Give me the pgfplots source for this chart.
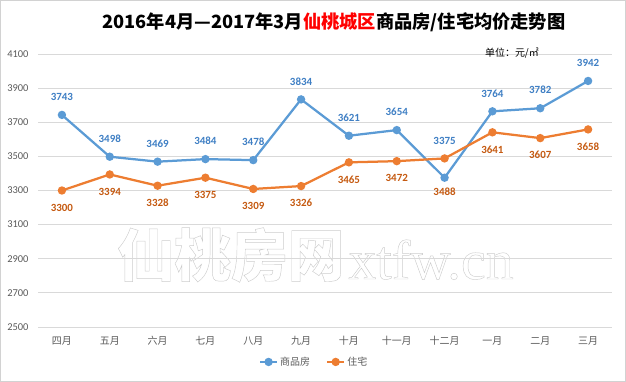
\documentclass[border=0pt]{standalone}
\usepackage{pgfplots}
\usepackage{pgfplotstable}
\pgfplotsset{compat=1.18}
\usepackage{fontspec}
\setmainfont{Carlito}
\newfontfamily\cjk{Noto Sans CJK SC}
\newfontfamily\wmserif{Liberation Serif}
\definecolor{cblue}{HTML}{5B9BD5}
\definecolor{corange}{HTML}{ED7D31}
\definecolor{lblue}{HTML}{3F7FC4}
\definecolor{lorange}{HTML}{C55A11}
\definecolor{tickgray}{HTML}{595959}
\definecolor{gridgray}{HTML}{D9D9D9}
\pgfkeys{/pgf/number format/.cd,1000 sep={}}
\pgfplotstableread{
x y s
0 3743 18
1 3498 18
2 3469 18
3 3484 18
4 3478 18
5 3834 18
6 3621 18
7 3654 18
8 3375 37
9 3764 18
10 3782 18
11 3942 18
}\shangpin
\pgfplotstableread{
x y s
0 3300 -17
1 3394 -17
2 3328 -17
3 3375 -17
4 3309 -17
5 3326 -17
6 3465 -17
7 3472 -17
8 3488 -33
9 3641 -17
10 3607 -17
11 3658 -17
}\zhuzhai
\begin{document}
\begin{tikzpicture}
\path[use as bounding box] (0bp,0bp) rectangle (626bp,382bp);
\draw[color=gray!35, line width=1bp] (0.5bp,0.5bp) rectangle (625.5bp,381.5bp);
% watermark
\node[font=\cjk\bfseries\fontsize{57}{57}\selectfont, text=gray!40, inner sep=0pt] at (231bp,127bp) {\special{pdf:literal direct 1 Tr 0.45 w}仙桃房网\special{pdf:literal direct 0 Tr}};
\node[font=\wmserif\fontsize{56}{56}\selectfont, text=gray!40, inner sep=0pt, anchor=base] at (431bp,103bp) {\special{pdf:literal direct 1 Tr 0.45 w}xtfw.cn\special{pdf:literal direct 0 Tr}};
\begin{axis}[
  at={(38bp,55bp)}, anchor=south west, scale only axis,
  width=574bp, height=273bp,
  xmin=-0.5, xmax=11.5, ymin=2500, ymax=4100,
  ytick={2500,2700,...,4100},
  xtick={0,...,11},
  xticklabels={四月,五月,六月,七月,八月,九月,十月,十一月,十二月,一月,二月,三月},
  axis line style={draw=none},
  major tick length=0pt,
  ymajorgrids, grid style={gridgray, line width=0.75bp},
  /pgf/number format/assume math mode=true,
  yticklabel style={font=\fontsize{10.5}{12}\selectfont, text=tickgray, anchor=east, xshift=-6bp},
  xticklabel style={font=\cjk\fontsize{10}{11}\selectfont, text=tickgray, yshift=-6bp},
  legend style={at={(0.481,-0.128)}, anchor=center, draw=none, fill=none, legend columns=2,
    font=\cjk\fontsize{10}{11}\selectfont, text=tickgray,
    /tikz/every even column/.append style={column sep=14bp}},
  legend cell align=left,
  clip=false,
]
\addplot[cblue, line width=2.25bp, mark=*, mark size=3bp,
  visualization depends on={\thisrow{s} \as \myshift},
  nodes near coords, every node near coord/.append style={font=\bfseries\fontsize{11}{12}\selectfont, text=lblue, anchor=center, yshift=\myshift bp}]
  table[x=x, y=y] {\shangpin};
\addlegendentry{商品房}
\addplot[corange, line width=2.25bp, mark=*, mark size=3bp,
  visualization depends on={\thisrow{s} \as \myshift},
  nodes near coords, every node near coord/.append style={font=\bfseries\fontsize{11}{12}\selectfont, text=lorange, anchor=center, yshift=\myshift bp}]
  table[x=x, y=y] {\zhuzhai};
\addlegendentry{住宅}
\end{axis}
\node[font=\cjk\bfseries\fontsize{18.3}{18.3}\selectfont] at (334bp,360bp) {2016年4月—2017年3月\textcolor{red}{仙桃城区}商品房/住宅均价走势图};
\node[font=\cjk\fontsize{10}{10}\selectfont] at (512bp,329bp) {单位：元/㎡};
\end{tikzpicture}
\end{document}
